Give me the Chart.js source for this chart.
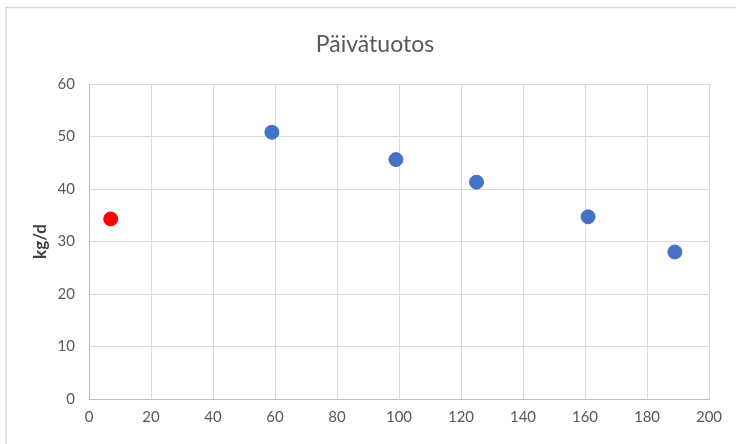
<!DOCTYPE html>
<html><head><meta charset="utf-8">
<script src="https://cdn.jsdelivr.net/npm/chart.js@4"></script>
<style>html,body{margin:0;padding:0;background:#fff}#wrap{width:736px;height:444px;position:relative}</style>
</head><body><div id="wrap"><canvas id="c" width="736" height="444"></canvas></div>
<script>
const titleText = "Päivätuotos";
const yTitle = "kg/d";
const redX = [7];
const redY = [34.3];
const blueX = [59, 99, 125, 161, 189];
const blueY = [50.8, 45.6, 41.3, 34.7, 28.0];
const xMin = 0, xMax = 200, xStep = 20;
const yMin = 0, yMax = 60, yStep = 10;

const toPts = (xs, ys) => xs.map((x, i) => ({x: x, y: ys[i]}));
const FONT = "Lato, 'Open Sans', sans-serif";
const GRAY = '#595959';

const frameAndTitle = {
  id: 'frameAndTitle',
  beforeDraw(chart) {
    const ctx = chart.ctx;
    ctx.save();
    ctx.strokeStyle = '#d9d9d9';
    ctx.lineWidth = 1.5;
    ctx.beginPath();
    ctx.moveTo(6, 460);
    ctx.lineTo(6, 7.5);
    ctx.lineTo(760, 7.5);
    ctx.stroke();
    ctx.fillStyle = GRAY;
    ctx.font = "23px " + FONT;
    ctx.textAlign = 'center';
    ctx.textBaseline = 'alphabetic';
    ctx.fillText(titleText, 375, 52);
    ctx.restore();
  }
};

new Chart(document.getElementById('c'), {
  type: 'scatter',
  data: {
    datasets: [
      {data: toPts(redX, redY), backgroundColor: '#ff0000', borderColor: '#ff0000', pointRadius: 7, pointHoverRadius: 7},
      {data: toPts(blueX, blueY), backgroundColor: '#4472c4', borderColor: '#4472c4', pointRadius: 7, pointHoverRadius: 7}
    ]
  },
  plugins: [frameAndTitle],
  options: {
    responsive: false,
    animation: false,
    devicePixelRatio: 1,
    layout: {padding: {left: 0, right: 27, top: 84, bottom: 0}},
    plugins: {
      legend: {display: false},
      tooltip: {enabled: false},
      title: {display: false}
    },
    scales: {
      x: {
        type: 'linear', min: xMin, max: xMax,
        ticks: {stepSize: xStep, color: GRAY, font: {family: FONT, size: 15}, padding: 9, maxRotation: 0},
        grid: {color: '#d9d9d9', drawTicks: false, lineWidth: 1},
        border: {color: '#bfbfbf', width: 1},
        afterFit(s) { s.height = 45; }
      },
      y: {
        type: 'linear', min: yMin, max: yMax,
        ticks: {stepSize: yStep, color: GRAY, font: {family: FONT, size: 15}, padding: 14},
        grid: {color: '#d9d9d9', drawTicks: false, lineWidth: 1},
        border: {color: '#bfbfbf', width: 1},
        title: {display: true, text: yTitle, color: '#404040', font: {family: FONT, size: 17, weight: 'bold'}, padding: {top: 30, bottom: 0}},
        afterFit(s) { s.width = 89; }
      }
    }
  }
});
</script></body></html>
